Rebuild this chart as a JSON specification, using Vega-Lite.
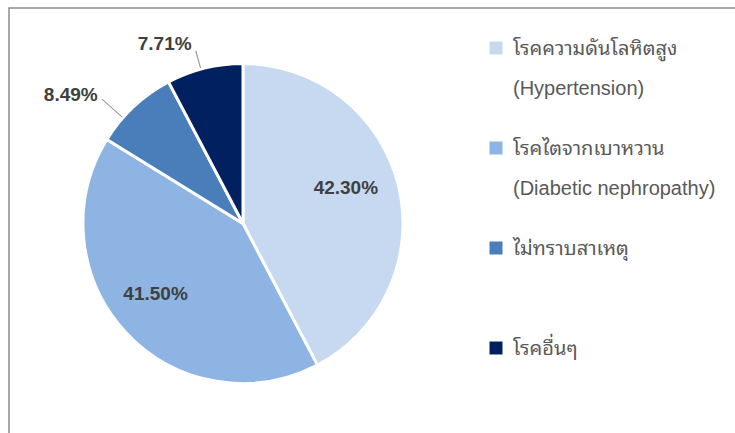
{
  "$schema": "https://vega.github.io/schema/vega-lite/v6.json",
  "width": 740,
  "height": 440,
  "autosize": "none",
  "padding": {"left": 9, "top": 8, "right": 0, "bottom": 0},
  "background": "white",
  "view": {"stroke": "#8c8c8c", "strokeWidth": 1.5},
  "config": {
    "view": {"stroke": "#8c8c8c", "strokeWidth": 1.5},
    "style": {"guide-label": {"lineHeight": 40, "dy": -9}}
  },
  "data": {
    "values": [
      {"cause": "โรคความดันโลหิตสูง|(Hypertension)", "value": 42.30, "order": 1, "label": "42.30%"},
      {"cause": "โรคไตจากเบาหวาน|(Diabetic nephropathy)", "value": 41.50, "order": 2, "label": "41.50%"},
      {"cause": "ไม่ทราบสาเหตุ| ", "value": 8.49, "order": 3, "label": "8.49%"},
      {"cause": "โรคอื่นๆ| ", "value": 7.71, "order": 4, "label": "7.71%"}
    ]
  },
  "transform": [
    {"joinaggregate": [{"op": "sum", "field": "value", "as": "total"}]},
    {"window": [{"op": "sum", "field": "value", "as": "cum"}], "sort": [{"field": "order", "order": "ascending"}], "frame": [null, 0]},
    {"calculate": "datum.cum / datum.total * 2 * PI", "as": "t1"},
    {"calculate": "(datum.cum - datum.value) / datum.total * 2 * PI", "as": "t0"},
    {"calculate": "(datum.t0 + datum.t1) / 2", "as": "tm"}
  ],
  "layer": [
    {
      "mark": {"type": "point", "opacity": 0},
      "encoding": {
        "x": {"field": "value", "type": "quantitative", "axis": null},
        "y": {"field": "order", "type": "quantitative", "axis": null}
      }
    },
    {
      "mark": {"type": "arc", "outerRadius": 160, "stroke": "white", "strokeWidth": 3, "xOffset": -136, "yOffset": -4.5},
      "encoding": {
        "theta": {"field": "t0", "type": "quantitative", "scale": null},
        "theta2": {"field": "t1"},
        "color": {
          "field": "cause",
          "type": "nominal",
          "scale": {
            "domain": ["โรคความดันโลหิตสูง|(Hypertension)", "โรคไตจากเบาหวาน|(Diabetic nephropathy)", "ไม่ทราบสาเหตุ| ", "โรคอื่นๆ| "],
            "range": ["#c6d9f0", "#8eb4e3", "#4a7ebb", "#002060"]
          },
          "legend": {
            "title": null,
            "orient": "none",
            "legendX": 477,
            "legendY": 30,
            "padding": 0,
            "symbolType": "square",
            "symbolSize": 169,
            "symbolStrokeWidth": 0,
            "labelFont": "Liberation Sans, Noto Sans Thai Looped, Loma, Garuda, Noto Sans Thai, Noto Sans",
            "labelFontSize": 20,
            "labelColor": "#595959",
            "labelLimit": 0,
            "labelOffset": 7,
            "labelBaseline": "top",
            "labelExpr": "split(datum.label, '|')",
            "rowPadding": 39,
            "gridAlign": "all"
          }
        }
      }
    },
    {
      "transform": [
        {"filter": "datum.order == 3"},
        {"calculate": "datum.tm - 0.1", "as": "la"},
        {"calculate": "datum.tm - 0.094", "as": "lb"}
      ],
      "mark": {"type": "arc", "outerRadius": 188, "innerRadius": 161, "color": "#999999", "xOffset": -136, "yOffset": -4.5},
      "encoding": {
        "theta": {"field": "la", "type": "quantitative", "scale": null},
        "theta2": {"field": "lb"}
      }
    },
    {
      "transform": [
        {"filter": "datum.order == 4"},
        {"calculate": "datum.tm - 0.028", "as": "la"},
        {"calculate": "datum.tm - 0.021", "as": "lb"}
      ],
      "mark": {"type": "arc", "outerRadius": 179, "innerRadius": 161, "color": "#999999", "xOffset": -136, "yOffset": -4.5},
      "encoding": {
        "theta": {"field": "la", "type": "quantitative", "scale": null},
        "theta2": {"field": "lb"}
      }
    },
    {
      "transform": [{"filter": "datum.order == 1"}],
      "mark": {"type": "text", "radius": 108, "dx": -2, "dy": -10, "font": "Liberation Sans", "fontWeight": "bold", "fontSize": 19, "color": "#404040", "xOffset": -136, "yOffset": -4.5},
      "encoding": {"theta": {"field": "tm", "type": "quantitative", "scale": null}, "text": {"field": "label"}}
    },
    {
      "transform": [{"filter": "datum.order == 2"}],
      "mark": {"type": "text", "radius": 110, "dx": -7, "dy": -5, "font": "Liberation Sans", "fontWeight": "bold", "fontSize": 19, "color": "#404040", "xOffset": -136, "yOffset": -4.5},
      "encoding": {"theta": {"field": "tm", "type": "quantitative", "scale": null}, "text": {"field": "label"}}
    },
    {
      "transform": [{"filter": "datum.order == 3"}],
      "mark": {"type": "text", "radius": 188, "align": "right", "dx": -17, "dy": 9, "font": "Liberation Sans", "fontWeight": "bold", "fontSize": 19, "color": "#404040", "xOffset": -136, "yOffset": -4.5},
      "encoding": {"theta": {"field": "tm", "type": "quantitative", "scale": null}, "text": {"field": "label"}}
    },
    {
      "transform": [{"filter": "datum.order == 4"}],
      "mark": {"type": "text", "radius": 185, "align": "right", "dx": -7, "dy": 0, "font": "Liberation Sans", "fontWeight": "bold", "fontSize": 19, "color": "#404040", "xOffset": -136, "yOffset": -4.5},
      "encoding": {"theta": {"field": "tm", "type": "quantitative", "scale": null}, "text": {"field": "label"}}
    }
  ]
}
